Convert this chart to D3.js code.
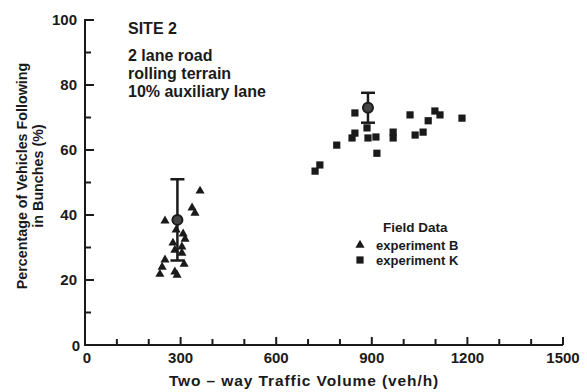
<!DOCTYPE html>
<html><head><meta charset="utf-8">
<script src="https://cdn.jsdelivr.net/npm/d3@7"></script>
<style>body{margin:0;background:#fff}svg{display:block}text{font-family:"Liberation Sans",Arial,sans-serif;fill:#1a1a1a}</style>
</head><body><svg id="c" width="587" height="392"></svg>
<script>
// Experiment B (triangles)
const bX = [361,336,345,251,286,308,314,276,304,282,304,251,311,242,235,282,289];
const bY = [47.4,42.2,40.6,38.2,35.4,34.2,32.6,31.4,30.2,29.2,28.3,26.2,24.9,24,21.8,22.5,21.5];
// Experiment K (squares)
const kX = [847,838,847,790,722,737,885,888,913,916,967,967,1020,1036,1061,1077,1098,1114,1183];
const kY = [71.4,63.7,65.2,61.5,53.5,55.4,66.8,63.7,64,59,65.5,63.7,70.8,64.6,65.5,69,72,70.8,69.8];
// Means with error bars
const meanX = [290, 888];
const meanY = [38.5, 73];
const meanErr = [12.5, 4.6];
const xTicks = [0,300,600,900,1200,1500];
const yTicks = [0,20,40,60,80,100];
const notes = ["2 lane road","rolling terrain","10% auxiliary lane"];

const svg = d3.select("#c");
const ink = "#1a1a1a";
const x = d3.scaleLinear().domain([0,1500]).range([85,563]);
const y = d3.scaleLinear().domain([0,100]).range([345,20]);

// x axis
const gx = svg.append("g").attr("transform","translate(0,345)");
gx.append("line").attr("x1",x(0)-1).attr("x2",x(1500)).attr("stroke",ink).attr("stroke-width",2);
gx.selectAll(".t").data(d3.range(100,1501,100)).join("line")
  .attr("x1",d=>x(d)).attr("x2",d=>x(d)).attr("y1",0).attr("y2",d=>d%300===0?-8:-6)
  .attr("stroke",ink).attr("stroke-width",2);
gx.selectAll(".l").data(xTicks).join("text").attr("x",d=>x(d)+(d===0?2:0)).attr("y",18)
  .attr("text-anchor","middle").attr("font-size",15).attr("font-weight","bold").text(d=>d);

// y axis
const gy = svg.append("g").attr("transform","translate(85,0)");
gy.append("line").attr("y1",y(0)).attr("y2",y(100)-1).attr("stroke",ink).attr("stroke-width",2);
gy.selectAll(".t").data(d3.range(10,101,10)).join("line")
  .attr("y1",d=>y(d)).attr("y2",d=>y(d)).attr("x1",0).attr("x2",d=>d%20===0?9:6)
  .attr("stroke",ink).attr("stroke-width",2);
gy.selectAll(".l").data(yTicks).join("text").attr("x",d=>d===0?-5:-8).attr("y",d=>y(d)+(d===0?6:5))
  .attr("text-anchor","end").attr("font-size",15).attr("font-weight","bold").text(d=>d);

// axis titles
svg.append("text").attr("x",304).attr("y",386).attr("text-anchor","middle")
  .attr("font-size",15.5).attr("letter-spacing",0.9).attr("font-weight","bold").text("Two – way Traffic Volume (veh/h)");
const yt = svg.append("text").attr("transform","translate(27,176) rotate(-90)")
  .attr("text-anchor","middle").attr("font-size",14.3).attr("font-weight","bold");
yt.append("tspan").attr("x",0).attr("y",0).text("Percentage of Vehicles Following");
yt.append("tspan").attr("x",0).attr("y",16).text("in Bunches (%)");

// annotations
svg.append("text").attr("x",128).attr("y",34).attr("font-size",16).attr("font-weight","bold").text("SITE 2");
svg.selectAll(".n").data(notes).join("text").attr("x",128).attr("y",(d,i)=>61+i*18)
  .attr("font-size",16).attr("font-weight","bold").text(d=>d);

// markers
const tri = d3.symbol().type(d3.symbolTriangle).size(36);
const sq = d3.symbol().type(d3.symbolSquare).size(52);
svg.selectAll(".b").data(bX).join("path").attr("d",tri)
  .attr("transform",(d,i)=>`translate(${x(d)},${y(bY[i])})`).attr("fill",ink);
svg.selectAll(".k").data(kX).join("path").attr("d",sq)
  .attr("transform",(d,i)=>`translate(${x(d)},${y(kY[i])})`).attr("fill",ink);

// error bars
const eb = svg.selectAll(".e").data(meanX).join("g");
eb.append("line").attr("x1",d=>x(d)).attr("x2",d=>x(d))
  .attr("y1",(d,i)=>y(meanY[i]+meanErr[i])).attr("y2",(d,i)=>y(meanY[i]-meanErr[i]))
  .attr("stroke",ink).attr("stroke-width",2.5);
eb.append("line").attr("x1",d=>x(d)-7).attr("x2",d=>x(d)+7)
  .attr("y1",(d,i)=>y(meanY[i]+meanErr[i])).attr("y2",(d,i)=>y(meanY[i]+meanErr[i]))
  .attr("stroke",ink).attr("stroke-width",2.5);
eb.append("line").attr("x1",d=>x(d)-7).attr("x2",d=>x(d)+7)
  .attr("y1",(d,i)=>y(meanY[i]-meanErr[i])).attr("y2",(d,i)=>y(meanY[i]-meanErr[i]))
  .attr("stroke",ink).attr("stroke-width",2.5);
eb.append("circle").attr("cx",d=>x(d)).attr("cy",(d,i)=>y(meanY[i])).attr("r",5)
  .attr("fill","#444").attr("stroke",ink).attr("stroke-width",2);

// legend
svg.append("text").attr("x",383).attr("y",232).attr("font-size",13.5).attr("font-weight","bold").text("Field Data");
svg.append("path").attr("d",tri).attr("transform","translate(360,245)").attr("fill",ink);
svg.append("path").attr("d",sq).attr("transform","translate(360,260)").attr("fill",ink);
svg.append("text").attr("x",376).attr("y",250).attr("font-size",13).attr("font-weight","bold").text("experiment  B");
svg.append("text").attr("x",376).attr("y",265).attr("font-size",13).attr("font-weight","bold").text("experiment  K");
</script></body></html>
